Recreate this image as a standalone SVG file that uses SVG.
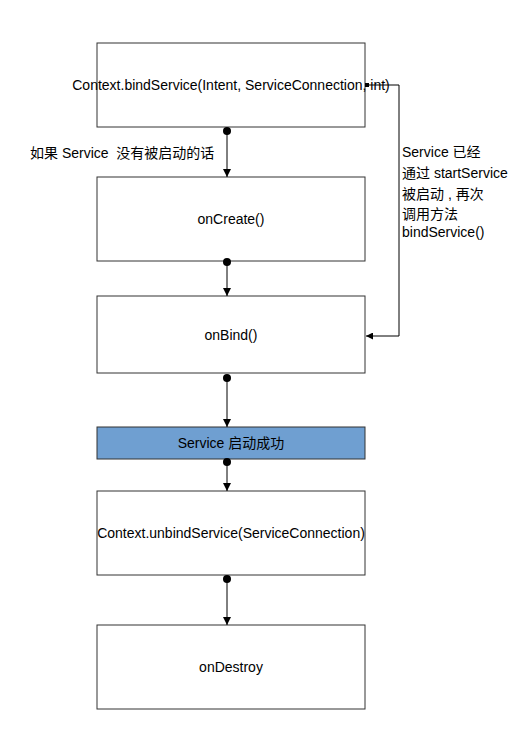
<svg xmlns="http://www.w3.org/2000/svg" width="519" height="732" viewBox="0 0 519 732">
<defs>
<marker id="arr" viewBox="0 0 10 10" refX="10" refY="5" markerWidth="8" markerHeight="10" markerUnits="userSpaceOnUse" orient="auto"><path d="M0,0 L10,5 L0,10 z" fill="#000"/></marker>
<marker id="arrs" viewBox="0 0 10 10" refX="10" refY="5" markerWidth="8" markerHeight="7" markerUnits="userSpaceOnUse" orient="auto"><path d="M0,0 L10,5 L0,10 z" fill="#000"/></marker>
</defs>
<style>
.box{fill:#fff;stroke:#333;stroke-width:1}
.blue{fill:#6f9fd1;stroke:#333;stroke-width:1}
.t{font-family:"Liberation Sans","Noto Sans CJK SC",sans-serif;font-size:14px;fill:#000}
.c{text-anchor:middle;dominant-baseline:central}
.ln{stroke:#000;stroke-width:1;fill:none}
</style>
<rect width="519" height="732" fill="#fff"/>
<g id="n1"><rect class="box" x="97" y="43" width="268" height="84"/><text class="t c" x="231" y="85">Context.bindService(Intent, ServiceConnection, int)</text></g>
<g id="n2"><rect class="box" x="97" y="177" width="268" height="84"/><text class="t c" x="231" y="219">onCreate()</text></g>
<g id="n3"><rect class="box" x="97" y="296" width="268" height="77"/><text class="t c" x="231" y="335">onBind()</text></g>
<g id="n4"><rect class="blue" x="97" y="427" width="268" height="32"/><text class="t c" x="231" y="443">Service 启动成功</text></g>
<g id="n5"><rect class="box" x="97" y="491" width="268" height="84"/><text class="t c" x="231" y="533">Context.unbindService(ServiceConnection)</text></g>
<g id="n6"><rect class="box" x="97" y="625" width="268" height="84"/><text class="t c" x="231" y="667">onDestroy</text></g>
<g id="connectors">
<path class="ln" d="M227,131 V177" marker-end="url(#arr)"/><circle cx="227" cy="131" r="4"/>
<path class="ln" d="M227,262 V296" marker-end="url(#arr)"/><circle cx="227" cy="262" r="4"/>
<path class="ln" d="M227,378 V427" marker-end="url(#arr)"/><circle cx="227" cy="378" r="4"/>
<path class="ln" d="M227,462 V491" marker-end="url(#arr)"/><circle cx="227" cy="462" r="4"/>
<path class="ln" d="M227,579 V625" marker-end="url(#arr)"/><circle cx="227" cy="579" r="4"/>
<path class="ln" d="M367,85 H399 V336 H366" marker-end="url(#arrs)"/><rect x="365" y="83" width="4" height="4"/>
<text class="t" x="30" y="158" xml:space="preserve">如果 Service  没有被启动的话</text>
<text class="t" x="402" y="157">Service 已经</text>
<text class="t" x="402" y="178">通过 startService</text>
<text class="t" x="402" y="199">被启动 , 再次</text>
<text class="t" x="402" y="219">调用方法</text>
<text class="t" x="402" y="237">bindService()</text>
</g>
</svg>
